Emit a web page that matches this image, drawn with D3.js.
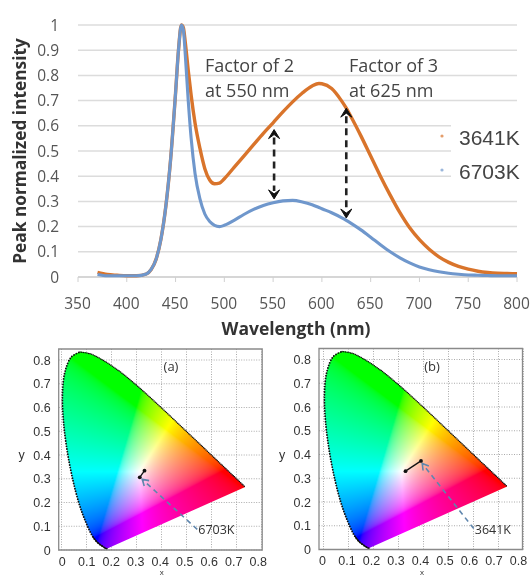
<!DOCTYPE html>
<html><head><meta charset="utf-8">
<script src="https://cdn.jsdelivr.net/npm/d3@7"></script>
<style>html,body{margin:0;padding:0;background:#fff;overflow:hidden}svg{display:block;filter:blur(.5px)}</style>
</head><body><svg id="c" width="532" height="577"></svg>
<script>
const wavelengths=[370,380,390,400,410,420,425,430,435,440,445,450,453,456,458,460,463,466,470,475,480,485,490,495,500,510,520,530,540,550,560,570,580,590,597,600,610,620,625,630,640,650,660,670,680,690,700,710,720,730,740,750,760,770,780,790,800];
const orange3641=[.018,.01,.007,.005,.005,.012,.03,.07,.15,.28,.47,.73,.9,1,.99,.93,.82,.72,.61,.51,.43,.385,.37,.373,.39,.435,.48,.525,.57,.612,.655,.695,.73,.758,.768,.767,.748,.70,.67,.635,.56,.48,.40,.325,.255,.195,.148,.11,.08,.058,.042,.031,.023,.018,.015,.014,.013];
const blue6703=[.01,.005,.005,.005,.005,.012,.03,.07,.15,.28,.47,.73,.9,1,.98,.88,.7,.55,.41,.31,.25,.22,.205,.2,.205,.225,.248,.268,.284,.295,.302,.304,.298,.287,.276,.271,.255,.236,.225,.213,.187,.158,.128,.1,.076,.056,.04,.029,.021,.015,.011,.008,.007,.006,.005,.005,.005];
const xTicks=[350,400,450,500,550,600,650,700,750,800];
const yTicks=[0,.1,.2,.3,.4,.5,.6,.7,.8,.9,1];
const legendNames=["3641K","6703K"];
const legendColors=["#d9742b","#6f97cc"];
const arrowWavelengths=[551,625];
const arrowFrom=[.585,.67];
const arrowTo=[.31,.234];
const noteLines=[["Factor of 2","at 550 nm"],["Factor of 3","at 625 nm"]];
const locusX=[.181,.178,.171,.161,.1460,.1241,.0913,.0687,.0454,.0235,.0082,.0039,.0139,.0389,.0743,.1142,.1547,.2296,.3016,.3731,.4441,.5125,.5752,.6270,.6658,.6915,.7079,.7260,.7347];
const locusY=[.0050,.0051,.0109,.0177,.0297,.0578,.1327,.2007,.2950,.4127,.5384,.6548,.7502,.8120,.8338,.8262,.8059,.7543,.6923,.6245,.5547,.4866,.4242,.3725,.3340,.3083,.2920,.2740,.2653];
const cieTicks=[0,.1,.2,.3,.4,.5,.6,.7,.8];
const panelNames=["(a)","(b)"];
const panelLabels=["6703K","3641K"];
const panelPointsX=[[.313,.332],[.328,.39]];
const panelPointsY=[[.306,.334],[.33,.373]];
const panelArrowX=[[.543,.323],[.601,.395]];
const panelArrowY=[[.087,.2975],[.088,.362]];

const svg=d3.select("#c");
const x=d3.scaleLinear([350,800],[78,517]);
const y=d3.scaleLinear([0,1],[277,25]);
const UI="'Open Sans',sans-serif", AR="'Liberation Sans',Arial,sans-serif";

/* upper chart */
const chart=svg.append("g");
const legendGap=v=>v>=.4&&v<=.6;
chart.selectAll(".grid").data(yTicks).join("line").attr("x1",x(350)).attr("x2",d=>legendGap(d)?451:x(800))
 .attr("y1",d=>y(d)).attr("y2",d=>y(d)).attr("stroke",d=>d==0?"#c9c9c9":"#dcdcdc").attr("stroke-width",1.5);
chart.selectAll(".tk").data(xTicks).join("line").attr("x1",d=>x(d)).attr("x2",d=>x(d)).attr("y1",y(0)).attr("y2",y(0)+5).attr("stroke","#d0d0d0").attr("stroke-width",1);
chart.selectAll(".xl").data(xTicks).join("text").attr("x",d=>x(d)-.5).attr("y",309).attr("text-anchor","middle")
 .attr("font-family",UI).attr("font-size",15.5).attr("fill","#555").text(d=>d);
chart.selectAll(".yl").data(yTicks).join("text").attr("x",59).attr("y",d=>y(d)+5.5).attr("text-anchor","end")
 .attr("font-family",UI).attr("font-size",15.5).attr("fill","#555").text(d=>d);
chart.append("text").attr("x",296).attr("y",335).attr("text-anchor","middle").attr("font-family",UI).attr("font-weight",700).attr("font-size",17.5).attr("fill","#333").text("Wavelength (nm)");
chart.append("text").attr("transform","translate(26,151) rotate(-90)").attr("text-anchor","middle").attr("font-family",UI).attr("font-weight",700).attr("font-size",17.3).attr("fill","#333").text("Peak normalized intensity");
const line=d3.line().x((d,i)=>x(wavelengths[i])).y(d=>y(d)).curve(d3.curveMonotoneX);
chart.append("path").attr("d",line(orange3641)).attr("fill","none").attr("stroke",legendColors[0]).attr("stroke-width",3.4);
chart.append("path").attr("d",line(blue6703)).attr("fill","none").attr("stroke",legendColors[1]).attr("stroke-width",3.1);
noteLines.forEach((ls,k)=>ls.forEach((t,j)=>chart.append("text").attr("x",[205,349][k]).attr("y",72+j*25).attr("font-family",UI).attr("font-size",18).attr("fill","#444").text(t)));
legendNames.forEach((n,i)=>{
 chart.append("circle").attr("cx",442).attr("cy",136+i*34).attr("r",1.6).attr("fill",legendColors[i]).attr("opacity",.7);
 chart.append("text").attr("x",459).attr("y",145+i*34).attr("font-family",AR).attr("font-size",21).attr("fill","#444").text(n);
});
arrowWavelengths.forEach((w,i)=>{
 const ax=x(w), a=y(arrowFrom[i]), b=y(arrowTo[i]);
 chart.append("line").attr("x1",ax).attr("x2",ax).attr("y1",a+8).attr("y2",b-8).attr("stroke","#222").attr("stroke-width",2.6).attr("stroke-dasharray","7 5");
 chart.append("path").attr("d",`M${ax-5.5},${a+9}L${ax},${a}L${ax+5.5},${a+9}L${ax},${a+5}Z`).attr("fill","#111").attr("stroke","#111").attr("stroke-width",1);
 chart.append("path").attr("d",`M${ax-5.5},${b-9}L${ax},${b}L${ax+5.5},${b-9}L${ax},${b-5}Z`).attr("fill","#111").attr("stroke","#111").attr("stroke-width",1);
});

/* chromaticity colours */
function gamma(v){return v<=.0031308?12.92*v:1.055*Math.pow(v,1/2.4)-.055}
function makeImage(sx,sy){
 const [x0,x1]=sx.range(),[y1,y0]=sy.range();
 const W=Math.round(x1-x0),H=Math.round(y1-y0);
 const cv=document.createElement("canvas");cv.width=W;cv.height=H;
 const g=cv.getContext("2d"),im=g.createImageData(W,H);
 for(let j=0;j<H;j++)for(let i=0;i<W;i++){
  const cx=sx.invert(x0+i+.5),cy=Math.max(sy.invert(y0+j+.5),.001);
  const X=cx/cy,Y=1,Z=(1-cx-cy)/cy;
  let r=3.2406*X-1.5372*Y-.4986*Z,gg=-.9689*X+1.8758*Y+.0415*Z,b=.0557*X-.2040*Y+1.0570*Z;
  r=Math.max(r,0);gg=Math.max(gg,0);b=Math.max(b,0);
  const m=Math.max(r,gg,b)||1;
  const k=(j*W+i)*4;
  im.data[k]=255*gamma(r/m);im.data[k+1]=255*gamma(gg/m);im.data[k+2]=255*gamma(b/m);im.data[k+3]=255;
 }
 g.putImageData(im,0,0);
 return cv.toDataURL();
}

/* panels */
const frames=[{left:58.7,x0:61.5,yb:550},{left:319,x0:323.5,yb:549.5}];
frames.forEach((f,p)=>{
 const sx=d3.scaleLinear([0,.8],[f.x0,f.x0+200]);
 const sy=d3.scaleLinear([0,.84],[f.yb,f.yb-199.5]);
 const gp=svg.append("g");
 const right=f.left+203.5, topY=f.yb-201;
 gp.selectAll(".gx").data(cieTicks).join("line").attr("x1",d=>sx(d)).attr("x2",d=>sx(d)).attr("y1",topY).attr("y2",f.yb).attr("stroke","#aaa").attr("stroke-width",1).attr("stroke-dasharray","1 1.5");
 gp.selectAll(".gy").data(cieTicks).join("line").attr("x1",f.left).attr("x2",right).attr("y1",d=>sy(d)).attr("y2",d=>sy(d)).attr("stroke","#aaa").attr("stroke-width",1).attr("stroke-dasharray","1 1.5");
 const loc=d3.line().x((d,i)=>sx(locusX[i])).y((d,i)=>sy(locusY[i])).curve(d3.curveCatmullRom);
 const closed=loc(locusX)+"Z";
 const id="clip"+p;
 gp.append("clipPath").attr("id",id).append("path").attr("d",closed);
 gp.append("image").attr("x",f.x0).attr("y",f.yb-199.5).attr("width",200).attr("height",199.5).attr("preserveAspectRatio","none").attr("href",makeImage(sx,sy)).attr("clip-path",`url(#${id})`);
 gp.append("path").attr("d",loc(locusX.slice(0,15))).attr("fill","none").attr("stroke","#111").attr("stroke-width",1.9).attr("stroke-linecap","round").attr("stroke-dasharray","0 2.7");
 const lineTail=d3.line().x(d=>sx(locusX[d])).y(d=>sy(locusY[d])).curve(d3.curveCatmullRom);
 gp.append("path").attr("d",lineTail(d3.range(14,locusX.length))).attr("fill","none").attr("stroke","#111").attr("stroke-width",1.5).attr("stroke-linecap","round").attr("stroke-dasharray","0 1.7");
 gp.append("path").attr("d",loc(locusX.slice(0,6))).attr("fill","none").attr("stroke","#111").attr("stroke-width",1.2);
 gp.append("path").attr("d",`M${f.left},${topY}H${right}V${f.yb}H${f.left}Z`).attr("fill","none").attr("stroke","#8a8a8a").attr("stroke-width",1.3);
 gp.selectAll(".xt").data(cieTicks).join("text").attr("x",d=>f.left+3.5+d*245).attr("y",f.yb+15.5).attr("text-anchor","middle")
  .attr("font-family",AR).attr("font-size",12.5).attr("fill","#333").text(d=>d);
 gp.selectAll(".yt").data(cieTicks).join("text").attr("x",f.left-8).attr("y",d=>sy(d)+4.5).attr("text-anchor","end")
  .attr("font-family",AR).attr("font-size",12.5).attr("fill","#333").text(d=>d);
 gp.append("text").attr("x",f.left+103).attr("y",575.3).attr("text-anchor","middle").attr("font-family",AR).attr("font-size",8).attr("fill","#333").text("x");
 gp.append("text").attr("x",f.left-37).attr("y",459).attr("text-anchor","middle").attr("font-family",AR).attr("font-size",12.5).attr("fill","#333").text("y");
 gp.append("text").attr("x",[171,432][p]).attr("y",371).attr("text-anchor","middle").attr("font-family",UI).attr("font-size",13).attr("fill","#333").text(panelNames[p]);
 const ax=panelArrowX[p].map(sx),ay=panelArrowY[p].map(sy);
 gp.append("line").attr("x1",ax[0]).attr("y1",ay[0]).attr("x2",ax[1]).attr("y2",ay[1]).attr("stroke","#5f86ad").attr("stroke-width",1.6).attr("stroke-dasharray","5 4");
 const ang=Math.atan2(ay[0]-ay[1],ax[0]-ax[1]);
 const hd=[ang-.55,ang+.55].map(t=>[ax[1]+7*Math.cos(t),ay[1]+7*Math.sin(t)]);
 gp.append("path").attr("d",`M${hd[0]}L${ax[1]},${ay[1]}L${hd[1]}`).attr("fill","none").attr("stroke","#5f86ad").attr("stroke-width",1.6);
 gp.append("text").attr("x",ax[0]+1).attr("y",ay[0]+5).attr("font-family",UI).attr("font-size",12.5).attr("fill","#333").text(panelLabels[p]);
 gp.append("line").attr("x1",sx(panelPointsX[p][0])).attr("y1",sy(panelPointsY[p][0])).attr("x2",sx(panelPointsX[p][1])).attr("y2",sy(panelPointsY[p][1])).attr("stroke","#111").attr("stroke-width",1.3);
 panelPointsX[p].forEach((v,i)=>gp.append("circle").attr("cx",sx(v)).attr("cy",sy(panelPointsY[p][i])).attr("r",1.9).attr("fill","#111"));
});
</script></body></html>
